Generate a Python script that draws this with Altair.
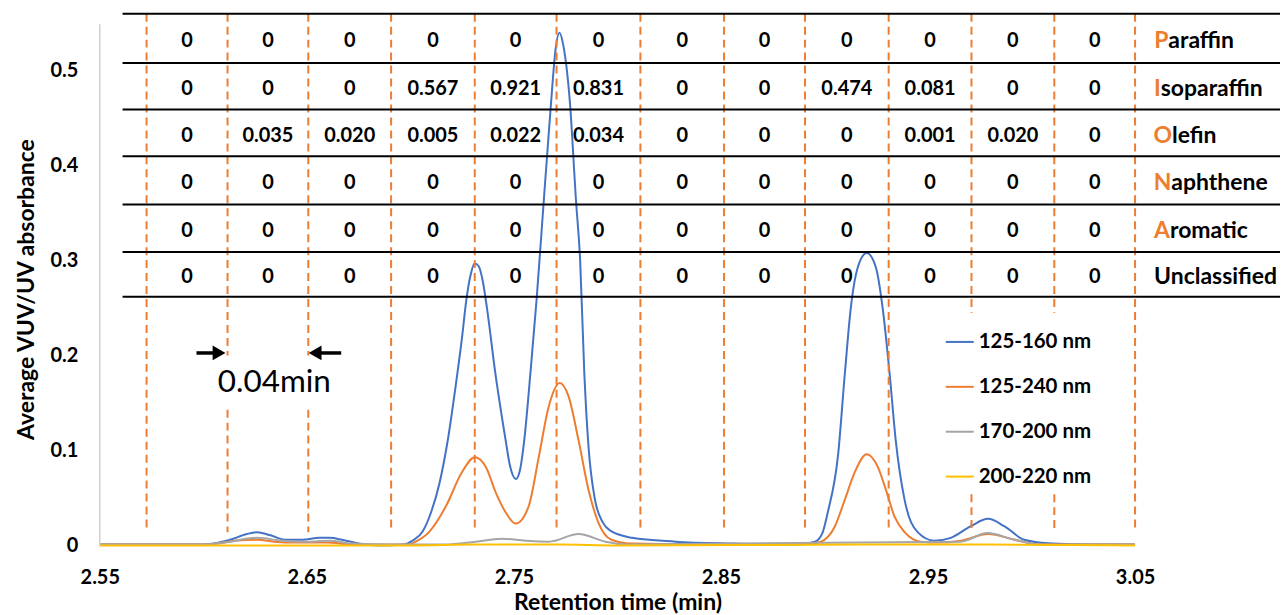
import altair as alt
import pandas as pd

FONT = "Lato"

# ---------------- series data ----------------
series_names = ["125-160 nm", "125-240 nm", "170-200 nm", "200-220 nm"]
series_colors = ["#4472C4", "#ED7D31", "#A5A5A5", "#FFC000"]

blue_t = [2.550, 2.580, 2.600, 2.605, 2.613, 2.621, 2.626, 2.632, 2.640, 2.648, 2.656, 2.661,
          2.667, 2.675, 2.685, 2.697, 2.701, 2.706, 2.710, 2.714, 2.718, 2.722, 2.725, 2.727,
          2.729, 2.731, 2.733, 2.735, 2.737, 2.741, 2.746, 2.748, 2.751, 2.753, 2.755, 2.758,
          2.761, 2.764, 2.768, 2.770, 2.772, 2.774, 2.777, 2.780, 2.782, 2.784, 2.786, 2.789,
          2.793, 2.797, 2.807, 2.828, 2.855, 2.887, 2.8954, 2.899, 2.9016, 2.9065, 2.9098,
          2.9127, 2.9161, 2.9204, 2.9248, 2.9281, 2.9315, 2.9344, 2.9387, 2.945, 2.953, 2.961,
          2.9705, 2.979, 2.987, 2.9965, 3.010, 3.030, 3.050]
blue_v = [0.001, 0.001, 0.001, 0.002, 0.006, 0.012, 0.014, 0.011, 0.006, 0.006, 0.008, 0.008,
          0.006, 0.002, 0.000, 0.001, 0.005, 0.015, 0.035, 0.065, 0.110, 0.170, 0.220, 0.258,
          0.284, 0.297, 0.294, 0.278, 0.250, 0.182, 0.111, 0.085, 0.070, 0.080, 0.111, 0.182,
          0.260, 0.350, 0.468, 0.520, 0.540, 0.525, 0.468, 0.363, 0.300, 0.182, 0.105, 0.050,
          0.024, 0.015, 0.008, 0.004, 0.002, 0.001, 0.004, 0.013, 0.035, 0.094, 0.180,
          0.250, 0.293, 0.308, 0.293, 0.250, 0.180, 0.111, 0.048, 0.014, 0.005, 0.008,
          0.020, 0.028, 0.020, 0.006, 0.002, 0.001, 0.001]

orange_t = [2.550, 2.600, 2.607, 2.615, 2.626, 2.634, 2.645, 2.660, 2.672, 2.700, 2.7008,
            2.709, 2.7171, 2.7249, 2.7311, 2.7364, 2.7412, 2.746, 2.7509, 2.7571, 2.762,
            2.7668, 2.7721, 2.7764, 2.7812, 2.786, 2.7908, 2.7971, 2.8067, 2.850, 2.8935,
            2.8983, 2.905, 2.9098, 2.9146, 2.9204, 2.9257, 2.9296, 2.9339, 2.9387, 2.9464,
            2.9546, 2.966, 2.979, 2.992, 3.004, 3.050]
orange_v = [0.001, 0.001, 0.002, 0.005, 0.006, 0.004, 0.003, 0.003, 0.001, 0.001, 0.002,
            0.014, 0.041, 0.077, 0.093, 0.083, 0.056, 0.035, 0.023, 0.041, 0.093,
            0.146, 0.171, 0.157, 0.111, 0.059, 0.024, 0.006, 0.002, 0.001, 0.002,
            0.004, 0.020, 0.048, 0.077, 0.096, 0.083, 0.059, 0.030, 0.014, 0.004,
            0.003, 0.005, 0.012, 0.006, 0.001, 0.001]

gray_t = [2.550, 2.600, 2.610, 2.626, 2.638, 2.650, 2.661, 2.672, 2.690, 2.717, 2.7316,
          2.7441, 2.7557, 2.7668, 2.7812, 2.7942, 2.8039, 2.9657, 2.9787, 2.9917, 3.0042, 3.050]
gray_v = [0.001, 0.001, 0.003, 0.008, 0.005, 0.004, 0.005, 0.002, 0.001, 0.001, 0.004,
          0.007, 0.005, 0.004, 0.012, 0.004, 0.001, 0.004, 0.013, 0.006, 0.001, 0.001]

yellow_t = [2.550, 2.700, 2.731, 2.772, 2.800, 2.920, 2.979, 3.050]
yellow_v = [0.000, 0.000, 0.001, 0.001, 0.000, 0.001, 0.001, 0.000]

# ---------------- annotation table ----------------
row_names = ["Paraffin", "Isoparaffin", "Olefin", "Naphthene", "Aromatic", "Unclassified"]
row_initials = ["P", "I", "O", "N", "A", ""]
row_bounds = [0.560, 0.508, 0.459, 0.410, 0.359, 0.309, 0.262]
paraffin_vals = ["0", "0", "0", "0", "0", "0", "0", "0", "0", "0", "0", "0"]
isoparaffin_vals = ["0", "0", "0", "0.567", "0.921", "0.831", "0", "0", "0.474", "0.081", "0", "0"]
olefin_vals = ["0", "0.035", "0.020", "0.005", "0.022", "0.034", "0", "0", "0", "0.001", "0.020", "0"]
naphthene_vals = ["0", "0", "0", "0", "0", "0", "0", "0", "0", "0", "0", "0"]
aromatic_vals = ["0", "0", "0", "0", "0", "0", "0", "0", "0", "0", "0", "0"]
unclassified_vals = ["0", "0", "0", "0", "0", "0", "0", "0", "0", "0", "0", "0"]
table_vals = [paraffin_vals, isoparaffin_vals, olefin_vals, naphthene_vals, aromatic_vals, unclassified_vals]

# dashed 0.04-min window dividers (as drawn in the figure)
divider_t = [2.5726, 2.6117, 2.6507, 2.6907, 2.7311, 2.7706, 2.8111, 2.8515, 2.8906,
             2.9310, 2.9710, 3.0110, 3.0500]
divider_gaps = {1: (0.200, 0.143), 2: (0.200, 0.143), 10: (0.245, 0.054), 11: (0.245, 0.054)}

x_ticks = [2.55, 2.65, 2.75, 2.85, 2.95, 3.05]
y_ticks = [0, 0.1, 0.2, 0.3, 0.4, 0.5]

# ---------------- layout constants ----------------
X_DOMAIN = [2.55, 3.12]
Y_DOMAIN = [0, 0.56]
W, H = 1183, 533
PX_PER_MIN = W / (X_DOMAIN[1] - X_DOMAIN[0])
DIV_TOP, DIV_BOTTOM = 0.560, 0.014
TABLE_X0, TABLE_X1 = 2.561, 3.12
LABEL_X = 3.0592
LABEL_SIZE = 23
INITIAL_EM = {"P": 0.62, "I": 0.29, "O": 0.78, "N": 0.75, "A": 0.69, "": 0.0}

# ---------------- frames ----------------
curve_rows = []
for name, ts, vs in zip(series_names, [blue_t, orange_t, gray_t, yellow_t],
                        [blue_v, orange_v, gray_v, yellow_v]):
    for t, v in zip(ts, vs):
        curve_rows.append({"series": name, "t": t, "v": v})
curves = pd.DataFrame(curve_rows)

seg_rows = []
for i, t in enumerate(divider_t):
    if i in divider_gaps:
        g1, g2 = divider_gaps[i]
        seg_rows.append({"t": t, "y1": DIV_TOP, "y2": g1})
        seg_rows.append({"t": t, "y1": g2, "y2": DIV_BOTTOM})
    else:
        seg_rows.append({"t": t, "y1": DIV_TOP, "y2": DIV_BOTTOM})
segments = pd.DataFrame(seg_rows)

hlines = pd.DataFrame({"y": row_bounds, "x1": TABLE_X0, "x2": TABLE_X1})

col_centers = [(a + b) / 2 for a, b in zip(divider_t[:-1], divider_t[1:])]
row_centers = [(a + b) / 2 for a, b in zip(row_bounds[:-1], row_bounds[1:])]
cell_rows = []
for rc, vals in zip(row_centers, table_vals):
    for c, txt in zip(col_centers, vals):
        cell_rows.append({"t": c, "y": rc, "txt": txt})
cells = pd.DataFrame(cell_rows)

lab_rows = []
for name, ini, rc in zip(row_names, row_initials, row_centers):
    anchor = LABEL_X + INITIAL_EM[ini] * LABEL_SIZE / PX_PER_MIN
    lab_rows.append({"t": anchor, "y": rc, "initial": ini, "rest": name[len(ini):]})
labels = pd.DataFrame(lab_rows)

arrow_shafts = pd.DataFrame({"x1": [2.5967, 2.6540], "x2": [2.6050, 2.6666], "y": [0.2027, 0.2027]})
arrow_heads_r = pd.DataFrame({"t": [2.6076], "y": [0.2027]})
arrow_heads_l = pd.DataFrame({"t": [2.6540], "y": [0.2027]})
note = pd.DataFrame({"t": [2.6343], "y": [0.171], "txt": ["0.04min"]})
axis_line = pd.DataFrame({"t": [2.55], "y1": [0.0], "y2": [0.549]})

xs = alt.Scale(domain=X_DOMAIN, nice=False, zero=False)
ys = alt.Scale(domain=Y_DOMAIN, nice=False, zero=False)

axis_style = dict(domain=False, ticks=False, tickSize=0, grid=False, labelFlush=False,
                  labelFont=FONT, labelFontSize=20, labelFontWeight="bold", labelColor="black",
                  titleFont=FONT, titleFontSize=23, titleFontWeight="bold", titleColor="black")

x_axis = alt.Axis(values=x_ticks, format=".2f", title="Retention time (min)",
                  labelPadding=22, titleX=519, titleY=64, titleBaseline="alphabetic",
                  titleAlign="center", **axis_style)
y_axis = alt.Axis(values=y_ticks, labelExpr="datum.value == 0 ? '0' : format(datum.value, '.1f')",
                  title="Average VUV/UV absorbance", labelPadding=22,
                  titleX=-73, titleY=276, titleAngle=-90, titleBaseline="middle",
                  titleAlign="center", **axis_style)


def X(field):
    return alt.X(field, scale=xs, axis=x_axis)


def Y(field):
    return alt.Y(field, scale=ys, axis=y_axis)


# ---------------- layers ----------------
lines = alt.Chart(curves).mark_line(strokeWidth=2, interpolate="monotone").encode(
    x=X("t:Q"), y=Y("v:Q"),
    color=alt.Color("series:N", scale=alt.Scale(domain=series_names, range=series_colors),
                    legend=alt.Legend(orient="none", legendX=847, legendY=314, title=None,
                                      symbolType="stroke", symbolSize=784, symbolStrokeWidth=2,
                                      labelFont=FONT, labelFontSize=20.5, labelFontWeight="bold",
                                      labelColor="black", rowPadding=19, padding=0, labelOffset=4)),
)

axis_rule = alt.Chart(axis_line).mark_rule(color="#D0D0D0", strokeWidth=1.5).encode(
    x=X("t:Q"), y=Y("y1:Q"), y2="y2:Q")

dividers = alt.Chart(segments).mark_rule(color="#ED7D31", strokeWidth=2, strokeDash=[8, 5]).encode(
    x=X("t:Q"), y=Y("y1:Q"), y2="y2:Q")

table_lines = alt.Chart(hlines).mark_rule(color="black", strokeWidth=2).encode(
    x=X("x1:Q"), x2="x2:Q", y=Y("y:Q"))

cell_text = alt.Chart(cells).mark_text(font=FONT, fontSize=20, fontWeight="bold", color="black",
                                       baseline="middle", dy=3).encode(
    x=X("t:Q"), y=Y("y:Q"), text="txt:N")

label_initial = alt.Chart(labels).mark_text(font=FONT, fontSize=LABEL_SIZE, fontWeight="bold",
                                            color="#ED7D31", align="right", baseline="middle",
                                            dy=3).encode(
    x=X("t:Q"), y=Y("y:Q"), text="initial:N")
label_rest = alt.Chart(labels).mark_text(font=FONT, fontSize=LABEL_SIZE, fontWeight="bold",
                                         color="black", align="left", baseline="middle",
                                         dy=3).encode(
    x=X("t:Q"), y=Y("y:Q"), text="rest:N")

shafts = alt.Chart(arrow_shafts).mark_rule(color="black", strokeWidth=3.5).encode(
    x=X("x1:Q"), x2="x2:Q", y=Y("y:Q"))
head_r = alt.Chart(arrow_heads_r).mark_point(shape="triangle-right", filled=True, size=220,
                                             color="black", opacity=1).encode(
    x=X("t:Q"), y=Y("y:Q"))
head_l = alt.Chart(arrow_heads_l).mark_point(shape="triangle-left", filled=True, size=220,
                                             color="black", opacity=1).encode(
    x=X("t:Q"), y=Y("y:Q"))
note_text = alt.Chart(note).mark_text(font=FONT, fontSize=31.5, fontWeight="normal", color="black",
                                      baseline="middle").encode(
    x=X("t:Q"), y=Y("y:Q"), text="txt:N")

chart = alt.layer(
    lines, axis_rule, dividers, table_lines, cell_text, label_initial, label_rest,
    shafts, head_r, head_l, note_text
).properties(
    width=W, height=H,
    background="white",
    autosize=alt.AutoSizeParams(type="none"),
    padding={"left": 92, "top": 5, "right": 0, "bottom": 70},
).configure_view(stroke=None)

chart.save("out.html", embed_options={"renderer": "svg", "actions": False})
